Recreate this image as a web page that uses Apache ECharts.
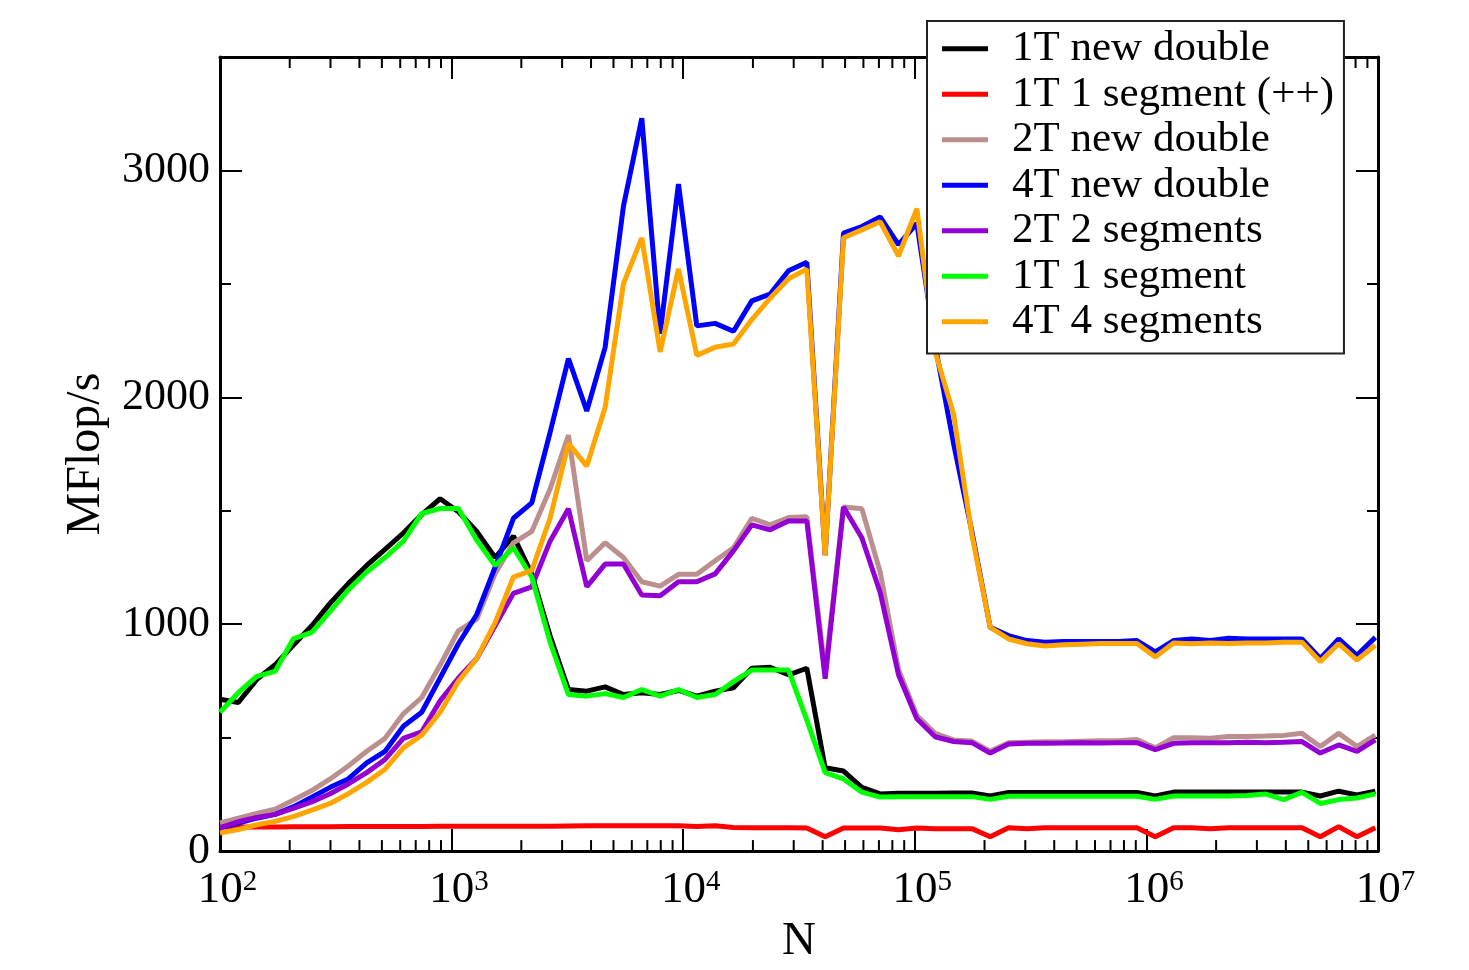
<!DOCTYPE html>
<html>
<head>
<meta charset="utf-8">
<script src="https://cdn.jsdelivr.net/npm/echarts@6/dist/echarts.min.js"></script>
<style>
  html, body { margin: 0; padding: 0; background: #fff; overflow: hidden; }
  #chart { width: 1469px; height: 970px; }
</style>
</head>
<body>
<div id="chart"></div>
<script>
// problem size N (x axis, log scale)
const sizes = [100, 120, 144, 173, 207, 249, 299, 358, 430, 516,
  619, 743, 892, 1070, 1284, 1541, 1849, 2219, 2662, 3195,
  3834, 4601, 5521, 6625, 7950, 9540, 11448, 13737, 16484, 19781,
  23738, 28485, 34182, 41019, 49222, 59067, 70880, 85056, 102068, 122481,
  146977, 176373, 211647, 253977, 304772, 365726, 438871, 526646, 631975, 758370,
  910044, 1092052, 1310462, 1572555, 1887066, 2264479, 2717375, 3260850, 3913020, 4695624,
  5634749, 6761699, 8114039, 9736847]

// MFlop/s per series
const oneTNewDouble = [669, 655, 756, 821, 907, 993, 1093, 1179, 1259, 1330,
  1402, 1483, 1553, 1496, 1409, 1294, 1388, 1222, 949, 712,
  705, 724, 690, 698, 690, 708, 683, 705, 720, 806,
  810, 777, 806, 367, 353, 281, 252, 255, 255, 255,
  256, 256, 243, 258, 258, 258, 258, 258, 258, 258,
  258, 243, 260, 260, 260, 260, 260, 260, 260, 260,
  243, 264, 248, 264]
const oneTOneSegPP = [106, 106, 106, 106, 107, 107, 107, 108, 108, 108,
  108, 108, 109, 109, 110, 110, 110, 110, 110, 111,
  112, 112, 112, 112, 112, 112, 108, 112, 104, 103,
  103, 103, 102, 63, 102, 102, 102, 94, 102, 99,
  99, 99, 63, 103, 99, 103, 103, 103, 103, 103,
  103, 63, 103, 103, 99, 103, 103, 103, 103, 103,
  63, 108, 63, 103]
const twoTNewDouble = [124, 145, 166, 185, 224, 267, 318, 375, 440, 497,
  605, 677, 820, 971, 1022, 1222, 1359, 1409, 1596, 1833,
  1280, 1359, 1294, 1187, 1168, 1220, 1220, 1280, 1337, 1467,
  1438, 1470, 1474, 790, 1517, 1509, 1230, 800, 598, 519,
  490, 485, 440, 478, 480, 482, 482, 484, 486, 486,
  492, 455, 500, 500, 497, 505, 505, 507, 510, 519,
  461, 519, 461, 511]
const fourTNewDouble = [102, 124, 145, 162, 195, 238, 281, 318, 389, 440,
  550, 612, 763, 914, 1043, 1251, 1467, 1535, 1845, 2171,
  1940, 2220, 2842, 3230, 2280, 2940, 2315, 2326, 2291, 2425,
  2455, 2558, 2595, 1305, 2724, 2753, 2795, 2673, 2767, 2228,
  1797, 1409, 986, 950, 928, 921, 924, 924, 924, 924,
  928, 878, 928, 935, 928, 938, 935, 935, 935, 935,
  849, 935, 863, 942]
const twoTTwoSeg = [102, 130, 148, 162, 188, 217, 253, 296, 346, 404,
  497, 526, 662, 763, 849, 993, 1136, 1165, 1366, 1509,
  1165, 1265, 1265, 1129, 1125, 1187, 1187, 1222, 1323, 1438,
  1416, 1455, 1455, 760, 1517, 1381, 1140, 777, 583, 504,
  483, 478, 432, 472, 475, 475, 476, 478, 476, 478,
  478, 447, 475, 478, 478, 478, 480, 478, 480, 483,
  432, 468, 440, 490]
const oneTOneSeg = [612, 698, 770, 792, 935, 964, 1057, 1151, 1230, 1294,
  1366, 1488, 1510, 1510, 1370, 1259, 1337, 1208, 921, 690,
  683, 694, 677, 712, 683, 712, 677, 690, 747, 798,
  798, 798, 577, 346, 318, 260, 238, 240, 240, 240,
  240, 240, 228, 242, 242, 242, 242, 242, 242, 242,
  242, 228, 243, 243, 243, 243, 245, 252, 227, 259,
  210, 227, 234, 252]
const fourTFourSeg = [80, 95, 116, 131, 152, 181, 210, 253, 303, 361,
  455, 511, 612, 748, 849, 1007, 1208, 1237, 1467, 1797,
  1697, 1955, 2501, 2703, 2200, 2566, 2185, 2221, 2235, 2343,
  2437, 2523, 2565, 1302, 2703, 2738, 2774, 2623, 2832, 2200,
  1927, 1395, 986, 935, 914, 904, 909, 912, 915, 915,
  915, 856, 917, 914, 917, 915, 917, 917, 920, 921,
  835, 914, 842, 907]

const seriesNames = ['1T new double', '1T 1 segment (++)', '2T new double', '4T new double',
  '2T 2 segments', '1T 1 segment', '4T 4 segments']
const seriesValues = [oneTNewDouble, oneTOneSegPP, twoTNewDouble, fourTNewDouble,
  twoTTwoSeg, oneTOneSeg, fourTFourSeg]
const seriesColors = ['#000000', '#ff0000', '#bc8f8f', '#0000ff', '#9400d3', '#00ff00', '#ffa500']

const yTicks = [0, 1000, 2000, 3000]

const FONT = 'Liberation Serif'

const chart = echarts.init(document.getElementById('chart'))

const frameLine = { show: true, onZero: false, lineStyle: { color: '#000', width: 3 } }

// log axis settings shared by bottom and top
const logAxis = (pos, showLabel) => ({
  type: 'log',
  logBase: 10,
  min: 100,
  max: 10000000,
  splitNumber: 5,
  position: pos,
  axisLine: frameLine,
  axisTick: { show: true, inside: true, length: 22, lineStyle: { color: '#000', width: 2 } },
  splitLine: { show: false },
  axisLabel: {
    show: showLabel,
    margin: 17,
    padding: [0, 0, 0, 15],
    formatter: (v) => '{b|10}{s|' + Math.round(Math.log10(v)) + '}',
    rich: {
      b: { fontFamily: FONT, fontSize: 45, color: '#000', lineHeight: 45 },
      s: { fontFamily: FONT, fontSize: 29, color: '#000', verticalAlign: 'top' }
    }
  }
})

// value axis, one for the long ticks at 1000 and one for the short ticks at 500
const valAxis = (pos, step, tickLen, showLabel, showLine) => ({
  type: 'value',
  min: 0,
  max: 3500,
  interval: step,
  position: pos,
  axisLine: showLine ? frameLine : { show: false },
  axisTick: { show: true, inside: true, length: tickLen, lineStyle: { color: '#000', width: 2 } },
  splitLine: { show: false },
  axisLabel: {
    show: showLabel,
    margin: 10,
    fontFamily: FONT,
    fontSize: 44,
    color: '#000',
    formatter: (v) => (yTicks.indexOf(v) >= 0 ? String(v) : '')
  }
})

const xMain = logAxis('bottom', true)
xMain.name = 'N'
xMain.nameLocation = 'middle'
xMain.nameGap = 62
xMain.nameTextStyle = { fontFamily: FONT, fontSize: 47, color: '#000' }

const yMain = valAxis('left', 1000, 22, true, true)
yMain.name = 'MFlop/s'
yMain.nameLocation = 'middle'
yMain.nameGap = 110
yMain.nameTextStyle = { fontFamily: FONT, fontSize: 48, color: '#000' }

const option = {
  backgroundColor: '#fff',
  animation: false,
  grid: { left: 220, width: 1158, top: 57, height: 810, containLabel: false },
  legend: {
    orient: 'vertical',
    left: 927,
    top: 21,
    data: seriesNames,
    icon: 'rect',
    itemWidth: 46,
    itemHeight: 5,
    itemGap: 2,
    padding: [6, 10, 10, 15],
    backgroundColor: '#fff',
    borderColor: '#222',
    borderWidth: 2,
    borderRadius: 0,
    textStyle: { fontFamily: FONT, fontSize: 43, color: '#000', lineHeight: 43.5, padding: [0, 0, 0, 19] }
  },
  xAxis: [xMain, logAxis('top', false)],
  yAxis: [
    yMain,
    valAxis('left', 500, 11, false, false),
    valAxis('right', 1000, 22, false, true),
    valAxis('right', 500, 11, false, false)
  ],
  series: seriesNames.map((name, i) => ({
    name: name,
    type: 'line',
    xAxisIndex: 0,
    yAxisIndex: 0,
    showSymbol: false,
    symbol: 'none',
    color: seriesColors[i],
    lineStyle: { color: seriesColors[i], width: 5 },
    data: sizes.map((n, j) => [n, seriesValues[i][j]])
  }))
}

chart.setOption(option)

// minor ticks of the log axis (2..9 in each decade), on bottom and top edges
const yBottom = chart.convertToPixel({ yAxisIndex: 0 }, 0)
const yTop = chart.convertToPixel({ yAxisIndex: 0 }, 3500)
const minorTicks = []
for (let e = 2; e < 7; e++) {
  for (let m = 2; m < 10; m++) {
    const x = chart.convertToPixel({ xAxisIndex: 0 }, m * Math.pow(10, e))
    minorTicks.push({ type: 'line', silent: true, shape: { x1: x, y1: yBottom, x2: x, y2: yBottom - 11 },
      style: { stroke: '#000', lineWidth: 2 } })
    minorTicks.push({ type: 'line', silent: true, shape: { x1: x, y1: yTop, x2: x, y2: yTop + 11 },
      style: { stroke: '#000', lineWidth: 2 } })
  }
}
chart.setOption({ graphic: minorTicks })
</script>
</body>
</html>
